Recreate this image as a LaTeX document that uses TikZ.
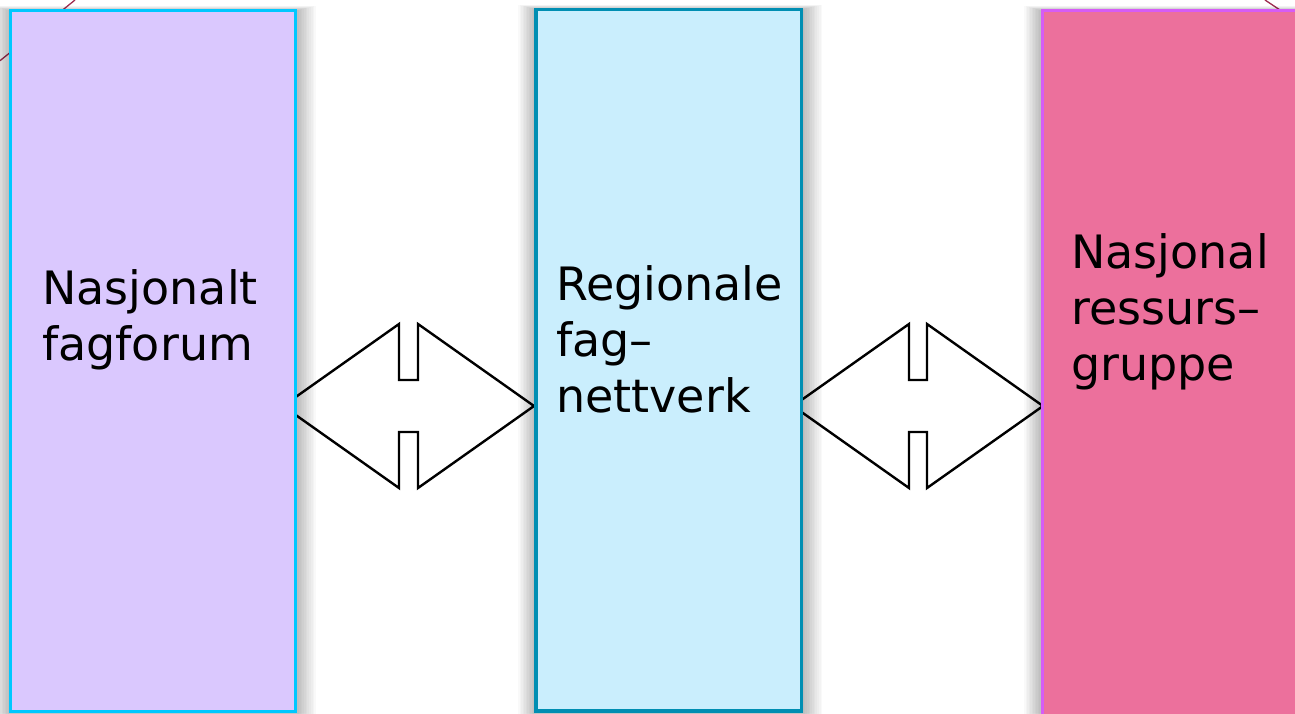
\documentclass[tikz,border=0pt]{standalone}
\usepackage{fontspec}
\setmainfont{DejaVu Sans}
\usetikzlibrary{calc}
\definecolor{lfill}{RGB}{218,200,254}
\definecolor{lborder}{RGB}{0,200,255}
\definecolor{mfill}{RGB}{202,238,253}
\definecolor{mborder}{RGB}{0,142,178}
\definecolor{rfill}{RGB}{236,112,156}
\definecolor{rborder}{RGB}{214,92,246}
\definecolor{diag}{RGB}{160,45,80}
\tikzset{
  x=1pt, y=-1pt,
  panel/.style={rectangle, draw, line width=3.3pt, inner sep=0pt, outer sep=0pt},
  lbl/.style={font=\fontsize{46}{56}\selectfont, text=black, inner sep=0pt, anchor=base west},
  twoway/.style={draw=black, line width=2.4pt, fill=white, line join=miter},
  glow/.style={fill=black, fill opacity=0.024, draw=none},
  thin diag/.style={draw=diag, line width=1.3pt}
}
\begin{document}
\begin{tikzpicture}
\useasboundingbox (0,0) rectangle (1295,713);
\fill[white] (0,0) rectangle (1295,713);
% decorative diagonal lines
\coordinate (d1a) at (0,60.7);
\coordinate (d1b) at (75,0);
\coordinate (d2a) at (1265,0);
\coordinate (d2b) at (1280,10);
\draw[thin diag] (d1a) -- (d1b);
\draw[thin diag] (d2a) -- (d2b);
% double arrows
\draw[twoway] (283,406) -- (399,324) -- (399,380) -- (418,380) -- (418,324) -- (534,406)
  -- (418,488) -- (418,432) -- (399,432) -- (399,488) -- cycle;
\draw[twoway] (793,406) -- (909,324) -- (909,380) -- (927,380) -- (927,324) -- (1043,406)
  -- (927,488) -- (927,432) -- (909,432) -- (909,488) -- cycle;
% glow shadows
\foreach \k in {1,...,12}{
  \fill[glow] (10.5-1.5*\k,10.8-0.4*\k) rectangle (295.5+1.7*\k,711.5+1.6*\k);
  \fill[glow] (536-1.5*\k,9.5-0.4*\k) rectangle (801.8+1.7*\k,711+1.6*\k);
  \fill[glow] (1042.2-1.5*\k,10.7-0.4*\k) rectangle (1320,740);
}
% panels
\node[panel, draw=lborder, fill=lfill, minimum width=285pt, minimum height=700.7pt] (nf) at (153,361.15) {};
\node[panel, draw=mborder, fill=mfill, minimum width=265.8pt, minimum height=701.5pt] (rf) at (668.9,360.25) {};
\node[panel, draw=rborder, fill=rfill, minimum width=280pt, minimum height=730pt] (nr) at (1182.2,375.7) {};
% labels
\node[lbl] (nf1) at (42,304) {Nasjonalt};
\node[lbl] (nf2) at (42,360) {fagforum};
\node[lbl] (rf1) at (556,300) {Regionale};
\node[lbl] (rf2) at (556,356) {fag–};
\node[lbl] (rf3) at (556,412) {nettverk};
\node[lbl] (nr1) at (1071,268) {Nasjonal};
\node[lbl] (nr2) at (1071,324) {ressurs–};
\node[lbl] (nr3) at (1071,380) {gruppe};
\end{tikzpicture}
\end{document}
